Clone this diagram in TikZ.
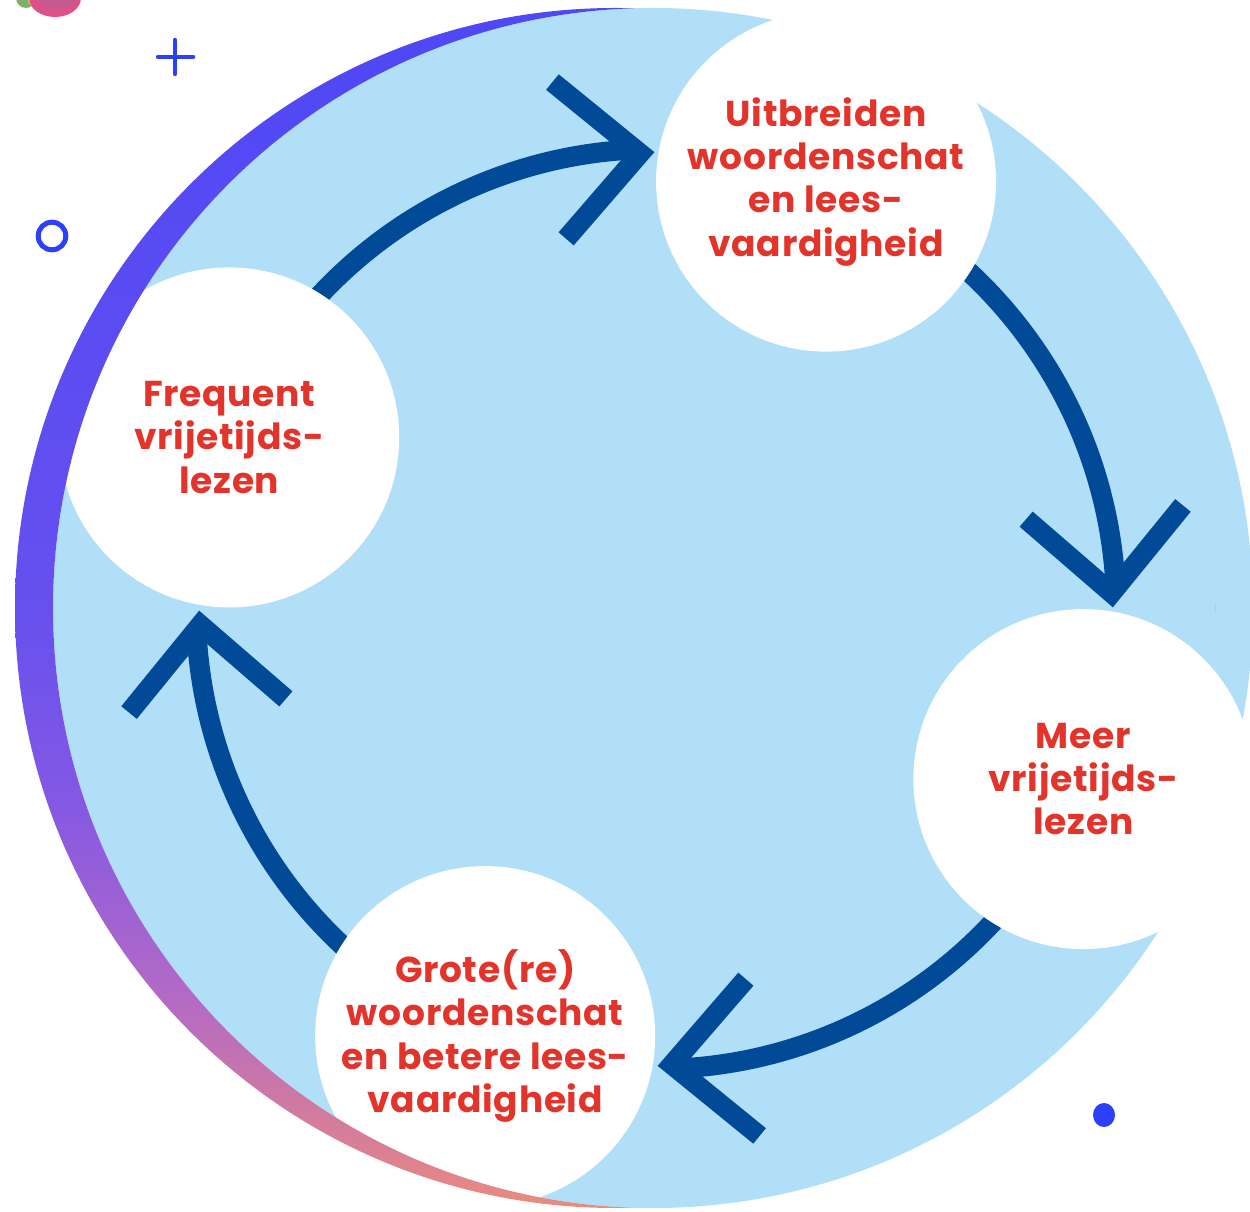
\documentclass[tikz,border=0pt]{standalone}
\usepackage{fontspec}
\usetikzlibrary{calc}
\newfontfamily\lbl{Poppins}[LetterSpace=2]
\definecolor{lightsky}{RGB}{176,223,247}
\definecolor{navy}{RGB}{0,74,152}
\definecolor{lblred}{RGB}{227,52,44}
\definecolor{decoblue}{RGB}{43,64,248}
\definecolor{leafgreen}{RGB}{127,176,105}
\definecolor{leafyellow}{RGB}{232,200,90}
\definecolor{leafpink}{RGB}{224,80,136}
\definecolor{leafmauve}{RGB}{196,90,144}
\definecolor{cA}{RGB}{234,140,126}
\definecolor{cB}{RGB}{218,128,148}
\definecolor{cC}{RGB}{180,106,196}
\definecolor{cD}{RGB}{132,88,228}
\definecolor{cE}{RGB}{102,80,238}
\definecolor{cF}{RGB}{80,72,245}
\pgfdeclareverticalshading{cresc}{100bp}{color(0bp)=(cA); color(25bp)=(cA); color(27.4bp)=(cB); color(33.7bp)=(cC); color(42bp)=(cD); color(50bp)=(cE); color(73bp)=(cF); color(100bp)=(cF)}
\pgfdeclarelayer{bg}
\pgfdeclarelayer{arcs}
\pgfdeclarelayer{fg}
\pgfsetlayers{bg,arcs,main,fg}
\tikzset{
  stage/.style={circle, fill=white, minimum size=340, inner sep=0pt, align=center,
    text=lblred, font=\lbl\bfseries\fontsize{36}{43.3}\selectfont},
  cyc/.style={draw=navy, line width=20, line cap=butt},
  chev/.style={draw=navy, line width=20, line cap=butt, line join=miter},
  chevron/.pic={\draw[chev] (-97.1,78.7) -- (-16,0) -- (-97.1,-78.7);}
}
\begin{document}
\begin{tikzpicture}[x=1pt,y=1pt]
\useasboundingbox (0,0) rectangle (1250,1211);
\clip (0,0) rectangle (1250,1211);
\coordinate (O) at (656,602);
% nodes
\node[stage] (ui) at ($(O)+(68.3:460)$) {Uitbreiden\\woordenschat\\en lees-\\vaardigheid};
\node[stage] (fr) at ($(O)+(158.1:460)$) {Frequent\\vrijetijds-\\lezen};
\node[stage] (me) at ($(O)+(-21.7:460)$) {Meer\\vrijetijds-\\lezen};
\node[stage] (gr) at ($(O)+(-111.8:460)$) {Grote(re)\\woordenschat\\en betere lees-\\vaardigheid};
\coordinate (t1) at ($(O)+(90:457)$);
\coordinate (t2) at ($(O)+(0:457)$);
\coordinate (t3) at ($(O)+(-90:457)$);
\coordinate (t4) at ($(O)+(180:457)$);
\begin{pgfonlayer}{bg}
  \fill[white] (0,0) rectangle (1250,1211);
  \fill[lightsky] (653,603) circle[radius=600];
\end{pgfonlayer}
\begin{pgfonlayer}{arcs}
  \draw[cyc] (fr.center) arc[start angle=158.1, end angle=93, radius=460];
  \draw[cyc] (ui.center) arc[start angle=68.3, end angle=3, radius=460];
  \draw[cyc] (me.center) arc[start angle=-21.7, end angle=-87, radius=460];
  \draw[cyc] (gr.center) arc[start angle=-111.8, end angle=-177, radius=460];
  \pic[rotate=5] at (t1) {chevron};
  \pic[rotate=-85] at (t2) {chevron};
  \pic[rotate=185] at (t3) {chevron};
  \pic[rotate=95] at (t4) {chevron};
\end{pgfonlayer}
\begin{pgfonlayer}{fg}
  \begin{scope}
    \clip (615,603) circle[radius=600];
    \shade[shading=cresc, even odd rule] (15,3) rectangle (1215,1203) (653,603) circle[radius=600];
  \end{scope}
  % decorations
  \draw[decoblue, line width=4.5, line cap=round] (175,1171) -- (175,1137) (158,1154) -- (193,1154);
  \draw[decoblue, line width=5] (52,975) circle[radius=13.8];
  \fill[decoblue] (1104,96) ellipse[x radius=11, y radius=12];
  \fill[leafgreen] (26,1213) circle[radius=10];
  \fill[leafyellow] (33,1212) ellipse[x radius=5, y radius=7];
  \fill[leafpink] (55,1213) ellipse[x radius=26, y radius=19];
  \fill[leafmauve] (57,1217) ellipse[x radius=22, y radius=15];
\end{pgfonlayer}
\end{tikzpicture}
\end{document}
